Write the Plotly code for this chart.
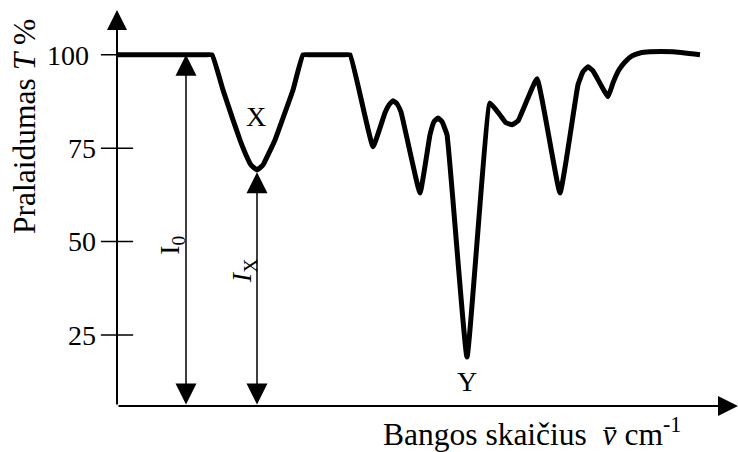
import plotly.graph_objects as go

# Transmission spectrum: position along the wavenumber axis and transmittance T (%)
wavenumber = [0, 60, 88, 95, 106, 116, 123, 129, 134, 140, 146, 151, 158, 166, 176, 186, 193,
              210, 226, 233, 256, 268, 272, 276, 280, 284, 303, 313, 317, 321, 325, 330, 350,
              373, 383, 389, 395, 401, 420, 443, 461, 466, 471, 476, 491, 496, 502,
              508, 515, 523, 533, 556, 583]
transmittance = [100, 100, 100, 100, 90.6, 82.6, 77.2, 73.2, 70.5, 69.2, 70.5, 73.2, 77.2, 83.1, 90.6, 100, 100,
                 100, 100, 100, 75.4, 84.5, 86.6, 87.7, 86.9, 84.7, 63.0, 78.6, 82.1, 83.1, 82.1, 78.6, 19.1,
                 87.1, 83.9, 81.8, 81.3, 82.3, 93.6, 63.0, 92.0, 95.5, 96.8, 95.7, 88.8, 92.5, 96.0,
                 98.1, 99.7, 100.5, 100.8, 100.8, 100]

y_ticks = [25, 50, 75, 100]
y_tick_labels = ["25", "50", "75", "100\u00a0"]

x_range = [0, 621]
y_range = [6, 112]

# baseline I0 and band X (minimum of the first dip), strongest band Y
i0_pos = 69
ix_pos = 140
ix_value = 69.2
peak_y_pos = 350
peak_y_value = 19.1

FONT = "Liberation Serif"
FS = 28
FS_TITLE = 31.5

fig = go.Figure()

fig.add_trace(go.Scatter(
    x=wavenumber, y=transmittance, mode="lines",
    line=dict(color="black", width=5, shape="spline", smoothing=0.3),
    cliponaxis=False, hoverinfo="skip", showlegend=False,
))

# tick marks crossing the T axis
fig.add_trace(go.Scatter(
    x=[0] * len(y_ticks), y=y_ticks, mode="markers",
    marker=dict(symbol="line-ew", size=23, line=dict(color="black", width=1.5)),
    cliponaxis=False, hoverinfo="skip", showlegend=False,
))

annotations = []


def arrow(x0, y0, x1, y1, width, size, both=False):
    d = dict(x=x1, y=y1, ax=x0, ay=y0, xref="x", yref="y", axref="x", ayref="y",
             text="", showarrow=True, arrowhead=2, arrowsize=size, arrowwidth=width,
             arrowcolor="black", standoff=0, startstandoff=0)
    if both:
        d.update(arrowside="end+start", startarrowhead=2, startarrowsize=size)
    annotations.append(d)


# axes with arrowheads
arrow(0, y_range[0], 0, y_range[1], 2, 2.0)
arrow(0, y_range[0], x_range[1], y_range[0], 2, 2.0)

# I0 and Ix double arrows
arrow(i0_pos, y_range[0], i0_pos, 100, 1.5, 2.8, both=True)
arrow(ix_pos, y_range[0], ix_pos, ix_value - 0.6, 1.5, 2.8, both=True)

txt = dict(showarrow=False, xanchor="center", yanchor="middle",
           font=dict(family=FONT, size=FS, color="black"))
ttl = dict(showarrow=False, xanchor="center", yanchor="middle",
           font=dict(family=FONT, size=FS_TITLE, color="black"))
annotations += [
    dict(x=ix_pos - 1, y=83.4, xref="x", yref="y", text="X", **txt),
    dict(x=peak_y_pos, y=peak_y_value - 6.6, xref="x", yref="y", text="Y", **txt),
    dict(x=i0_pos - 14, y=48.9, xref="x", yref="y", text="I<sub>0</sub>", textangle=-90, **txt),
    dict(x=ix_pos - 14, y=42.1, xref="x", yref="y", text="<i>I</i><sub>X</sub>", textangle=-90, **txt),
    dict(x=-0.148, y=0.705, xref="paper", yref="paper", text="Pralaidumas <i>T</i> %",
         textangle=-90, **ttl),
    dict(x=0.668, y=-0.066, xref="paper", yref="paper",
         text="Bangos skaičius  <i>v\u0304</i> cm<sup>-1</sup>", **ttl),
]

fig.update_layout(
    width=738, height=452,
    margin=dict(l=117, r=0, t=10, b=46),
    paper_bgcolor="white", plot_bgcolor="white",
    xaxis=dict(range=x_range, showgrid=False, zeroline=False, showline=False,
               showticklabels=False, ticks=""),
    yaxis=dict(range=y_range, showgrid=False, zeroline=False, showline=False, ticks="",
               tickvals=y_ticks, ticktext=y_tick_labels, ticklabelstandoff=20,
               tickfont=dict(family=FONT, size=FS, color="black")),
    annotations=annotations,
)

fig.write_html("out.html")
